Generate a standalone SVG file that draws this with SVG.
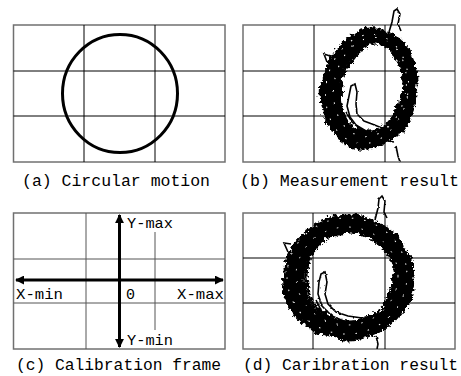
<svg xmlns="http://www.w3.org/2000/svg" width="461" height="376" viewBox="0 0 461 376">
<style>
.frame{fill:#fff;stroke:#707070;stroke-width:1.5}
.grid{stroke:#000;stroke-width:1;fill:none}
.grid2{stroke:#555;stroke-width:1;fill:none}
.cap{font-family:"Liberation Mono","DejaVu Sans Mono",monospace;font-size:16px;fill:#000}
.lab{font-family:"Liberation Mono","DejaVu Sans Mono",monospace;font-size:15px;fill:#000}
.ring{fill:none;stroke:#000}
.thin{fill:none;stroke:#000;stroke-width:1.6}
.speck{fill:none;stroke:#fff;stroke-width:1;stroke-dasharray:1.5 11}
.axis{stroke:#000;stroke-width:3}
</style>
<defs>
<filter id="rough" filterUnits="userSpaceOnUse" x="0" y="0" width="461" height="376">
<feTurbulence type="fractalNoise" baseFrequency="0.05" numOctaves="1" seed="4" result="w"/>
<feDisplacementMap in="SourceGraphic" in2="w" scale="8" xChannelSelector="R" yChannelSelector="G" result="d1"/>
<feTurbulence type="turbulence" baseFrequency="0.22" numOctaves="2" seed="3" result="t"/>
<feDisplacementMap in="d1" in2="t" scale="6" xChannelSelector="R" yChannelSelector="G"/>
</filter>
<filter id="rough2" filterUnits="userSpaceOnUse" x="0" y="0" width="461" height="376">
<feTurbulence type="fractalNoise" baseFrequency="0.3" numOctaves="1" seed="7" result="t"/>
<feDisplacementMap in="SourceGraphic" in2="t" scale="2.5" xChannelSelector="R" yChannelSelector="G"/>
</filter>
<marker id="ah" viewBox="0 0 10 10" refX="9" refY="5" markerWidth="3" markerHeight="3" orient="auto-start-reverse" markerUnits="strokeWidth">
<path d="M0,0 L10,5 L0,10 z" fill="#000"/>
</marker>
</defs>
<rect width="461" height="376" fill="#fff"/>

<g id="panel-a">
<rect class="frame" x="13.5" y="25" width="211.5" height="137"/>
<path class="grid" d="M84,25V162M155,25V162M13.5,71H225M13.5,116H225"/>
<ellipse cx="120" cy="93.5" rx="57.5" ry="59" fill="none" stroke="#000" stroke-width="3"/>
<text class="cap" x="22" y="186" textLength="188" lengthAdjust="spacingAndGlyphs">(a) Circular motion</text>
</g>

<g id="panel-b">
<rect class="frame" x="243" y="25" width="212" height="137"/>
<path class="grid" d="M314,25V162M385,25V162M243,71H455M243,116H455"/>
<g filter="url(#rough)">
<ellipse class="ring" cx="369" cy="87" rx="39" ry="52" stroke-width="16" transform="rotate(10 369 87)"/>
<ellipse class="ring" cx="366" cy="89" rx="45" ry="57" stroke-width="4" transform="rotate(8 366 89)"/>
<ellipse class="ring" cx="372" cy="87" rx="33" ry="46" stroke-width="3" transform="rotate(12 372 87)"/>
</g>
<g filter="url(#rough2)">
<path class="thin" d="M351,86 L355,84 L357,92 L356,104 L357,114 L364,121 L372,124 L382,128 L392,130 L398,133 L390,137 L378,136 L366,131 L356,125 L350,117 L347,106 L349,96 Z"/>
<path class="thin" d="M346,112 L352,122 L362,130 L378,139 L394,142"/>
<path class="thin" stroke-width="2" d="M389,32 L392,22 L394,11 L397,9 L400,14 L398,24 L401,31"/>
<path class="thin" stroke-width="2" d="M327,62 L324,54 L330,56"/>
<path class="thin" stroke-width="2.5" d="M396,146 L398,156 L400,162"/>
</g>
<g filter="url(#rough2)">
<ellipse class="speck" cx="367" cy="89" rx="41" ry="55" transform="rotate(10 367 89)"/>
<ellipse class="speck" cx="370" cy="87" rx="36" ry="50" transform="rotate(10 370 87)"/>
</g>
<text class="cap" x="240" y="186" textLength="219" lengthAdjust="spacingAndGlyphs">(b) Measurement result</text>
</g>

<g id="panel-c">
<rect class="frame" x="13.5" y="213" width="211.5" height="136"/>
<path class="grid2" d="M86,213V349M155,232V330M13.5,259H225M13.5,303H225"/>
<text class="lab" x="127" y="228" textLength="46" lengthAdjust="spacingAndGlyphs">Y-max</text>
<text class="lab" x="16" y="299" textLength="47" lengthAdjust="spacingAndGlyphs">X-min</text>
<text class="lab" x="126" y="299">0</text>
<text class="lab" x="177" y="299" textLength="47" lengthAdjust="spacingAndGlyphs">X-max</text>
<text class="lab" x="127" y="345" textLength="46" lengthAdjust="spacingAndGlyphs">Y-min</text>
<text class="cap" x="16" y="370" textLength="205" lengthAdjust="spacingAndGlyphs">(c) Calibration frame</text>
</g>

<g id="connectors">
<line class="axis" x1="16" y1="280" x2="223" y2="280" marker-start="url(#ah)" marker-end="url(#ah)"/>
<line class="axis" x1="119.5" y1="215" x2="119.5" y2="347" marker-start="url(#ah)" marker-end="url(#ah)"/>
</g>

<g id="panel-d">
<rect class="frame" x="243" y="213" width="212" height="136"/>
<path class="grid" d="M313,213V349M385,213V349M243,258H455M243,303H455"/>
<g filter="url(#rough)">
<ellipse class="ring" cx="347" cy="276" rx="55" ry="53" stroke-width="19" transform="rotate(-5 347 276)"/>
<ellipse class="ring" cx="345" cy="277" rx="62" ry="59" stroke-width="4" transform="rotate(-5 345 277)"/>
<ellipse class="ring" cx="349" cy="275" rx="46" ry="45" stroke-width="3"/>
</g>
<g filter="url(#rough2)">
<path class="thin" d="M321,274 L325,272 L327,282 L325,294 L328,304 L336,312 L348,316 L362,318 L378,318 L390,316 L380,322 L362,324 L346,322 L332,316 L322,306 L318,294 L319,282 Z"/>
<path class="thin" d="M316,300 L322,312 L336,322 L356,328 L374,330"/>
<path class="thin" stroke-width="2" d="M375,220 L378,208 L379,199 L382,196 L385,201 L384,212 L387,218"/>
<path class="thin" stroke-width="2" d="M288,252 L284,243 L291,244"/>
<path class="thin" stroke-width="2.5" d="M376,336 L378,344 L377,349"/>
</g>
<g filter="url(#rough2)">
<ellipse class="speck" cx="347" cy="276" rx="60" ry="58" transform="rotate(-5 347 276)"/>
<ellipse class="speck" cx="347" cy="276" rx="51" ry="49"/>
</g>
<text class="cap" x="243" y="370" textLength="215" lengthAdjust="spacingAndGlyphs">(d) Caribration result</text>
</g>
</svg>
